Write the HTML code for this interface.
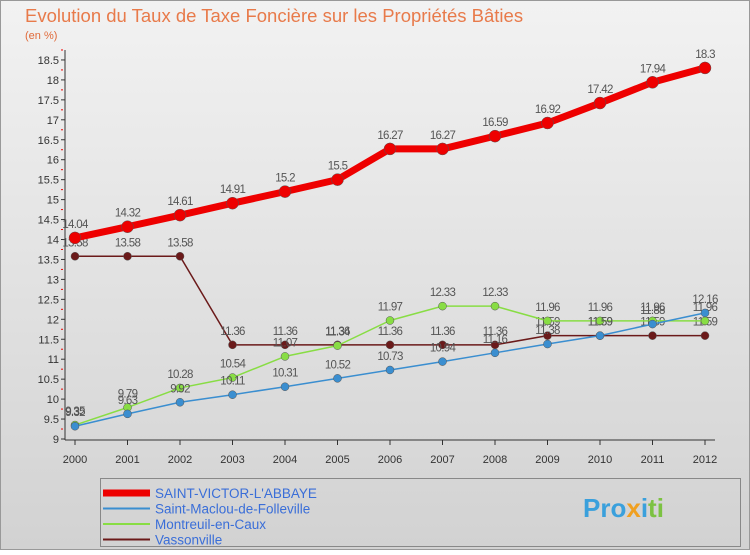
<!DOCTYPE html>
<html><head><meta charset="utf-8">
<style>
body{margin:0;width:750px;height:550px;overflow:hidden;font-family:"Liberation Sans",sans-serif;}
</style></head>
<body>
<svg id="c" width="750" height="550" xmlns="http://www.w3.org/2000/svg">
<defs>
<linearGradient id="bg" x1="0" y1="0" x2="0" y2="1"><stop offset="0" stop-color="#f2f2f2"/><stop offset="1" stop-color="#d2d2d2"/></linearGradient>
</defs>
<rect x="0" y="0" width="750" height="550" fill="url(#bg)"/>
<rect x="0.5" y="0.5" width="749" height="549" fill="none" stroke="#999"/>
<text x="25" y="22" font-size="18.5" fill="#e87a4a">Evolution du Taux de Taxe Foncière sur les Propriétés Bâties</text>
<text x="25" y="39" font-size="11" fill="#e06a3a">(en %)</text>
<g id="axes"></g>
<g id="series"></g>
<rect x="100.5" y="478.5" width="640" height="68" fill="none" stroke="#888"/>
<g id="legend"></g>
<g font-size="26" font-weight="bold" font-family="Liberation Sans, sans-serif">
<text x="583" y="517"><tspan fill="#3aa0dc">Pro</tspan><tspan fill="#f0a020">x</tspan><tspan fill="#3aa0dc">i</tspan><tspan fill="#7cc242">ti</tspan></text>
</g>
</svg>
<script>
const years=[2000,2001,2002,2003,2004,2005,2006,2007,2008,2009,2010,2011,2012];
const saintVictor=[14.04,14.32,14.61,14.91,15.2,15.5,16.27,16.27,16.59,16.92,17.42,17.94,18.3];
const saintMaclou=[9.32,9.63,9.92,10.11,10.31,10.52,10.73,10.94,11.16,11.38,11.59,11.88,12.16];
const montreuil=[9.35,9.79,10.28,10.54,11.07,11.34,11.97,12.33,12.33,11.96,11.96,11.96,11.96];
const vassonville=[13.58,13.58,13.58,11.36,11.36,11.36,11.36,11.36,11.36,11.59,11.59,11.59,11.59];
const yTicks=[9,9.5,10,10.5,11,11.5,12,12.5,13,13.5,14,14.5,15,15.5,16,16.5,17,17.5,18,18.5];
const seriesNames=["SAINT-VICTOR-L'ABBAYE","Saint-Maclou-de-Folleville","Montreuil-en-Caux","Vassonville"];
const NS="http://www.w3.org/2000/svg";
const x=i=>75+i*52.5;
const y=v=>439-(v-9)*39.9;
function mk(tag,attrs,parent){const e=document.createElementNS(NS,tag);for(const k in attrs)e.setAttribute(k,attrs[k]);parent.appendChild(e);return e;}
const ax=document.getElementById('axes');
let a=mk('line',{x1:65,y1:50,x2:65,y2:440,stroke:'#333'},ax);


a=mk('line',{x1:65,y1:440,x2:715,y2:440,stroke:'#333'},ax);


yTicks.forEach(t=>{
  const l=mk('line',{x1:61,y1:y(t),x2:65,y2:y(t),stroke:'#333'},ax);
  
  
  const m=mk('line',{x1:61,y1:y(t+0.25),x2:63,y2:y(t+0.25),stroke:'#e00'},ax);
  
  
  const tx=mk('text',{x:59,y:y(t)+4,'font-size':11,fill:'#333','text-anchor':'end'},ax);
  tx.textContent=t;
  
  
});
years.forEach((yr,i)=>{
  const l=mk('line',{x1:x(i),y1:440,x2:x(i),y2:445,stroke:'#333'},ax);
  
  
  const tx=mk('text',{x:x(i),y:463,'font-size':11,fill:'#333','text-anchor':'middle'},ax);
  tx.textContent=yr;
  
  
});
const sg=document.getElementById('series');
const defs=[
 {d:vassonville,c:'#6b1a1a',w:1.5,r:4,n:'vassonville'},
 {d:montreuil,c:'#88dd44',w:1.5,r:4,n:'montreuil-en-caux'},
 {d:saintMaclou,c:'#3a8ed0',w:1.5,r:4,n:'saint-maclou-de-folleville'},
 {d:saintVictor,c:'#ee0000',w:7,r:6,n:'saint-victor-l-abbaye'}
];
defs.forEach(s=>{
  const g=mk('g',{},sg);
  
  
  const p=mk('polyline',{points:s.d.map((v,i)=>x(i)+','+y(v)).join(' '),fill:'none',stroke:s.c,'stroke-width':s.w,'stroke-linejoin':'round'},g);
  
  
  s.d.forEach((v,i)=>{
    const c=mk('circle',{cx:x(i),cy:y(v),r:s.r,fill:s.c,stroke:'#555','stroke-width':0.5},g);
    
    
    const t=mk('text',{x:x(i),y:y(v)-10,'font-size':11.5,fill:'#555','text-anchor':'middle','letter-spacing':'-0.7'},g);
    t.textContent=v;
    
    
  });
});
const lg=document.getElementById('legend');
const lc=['#ee0000','#3a8ed0','#88dd44','#6b1a1a'],lw=[7,2,2,2];
seriesNames.forEach((n,i)=>{
  const yy=493+i*15.5;
  const l=mk('line',{x1:103,y1:yy,x2:150,y2:yy,stroke:lc[i],'stroke-width':lw[i]},lg);
  
  
  const t=mk('text',{x:155,y:yy+5,'font-size':13.5,fill:'#3a6ed8'},lg);
  t.textContent=n;
  
  
});
</script>
</body></html>
